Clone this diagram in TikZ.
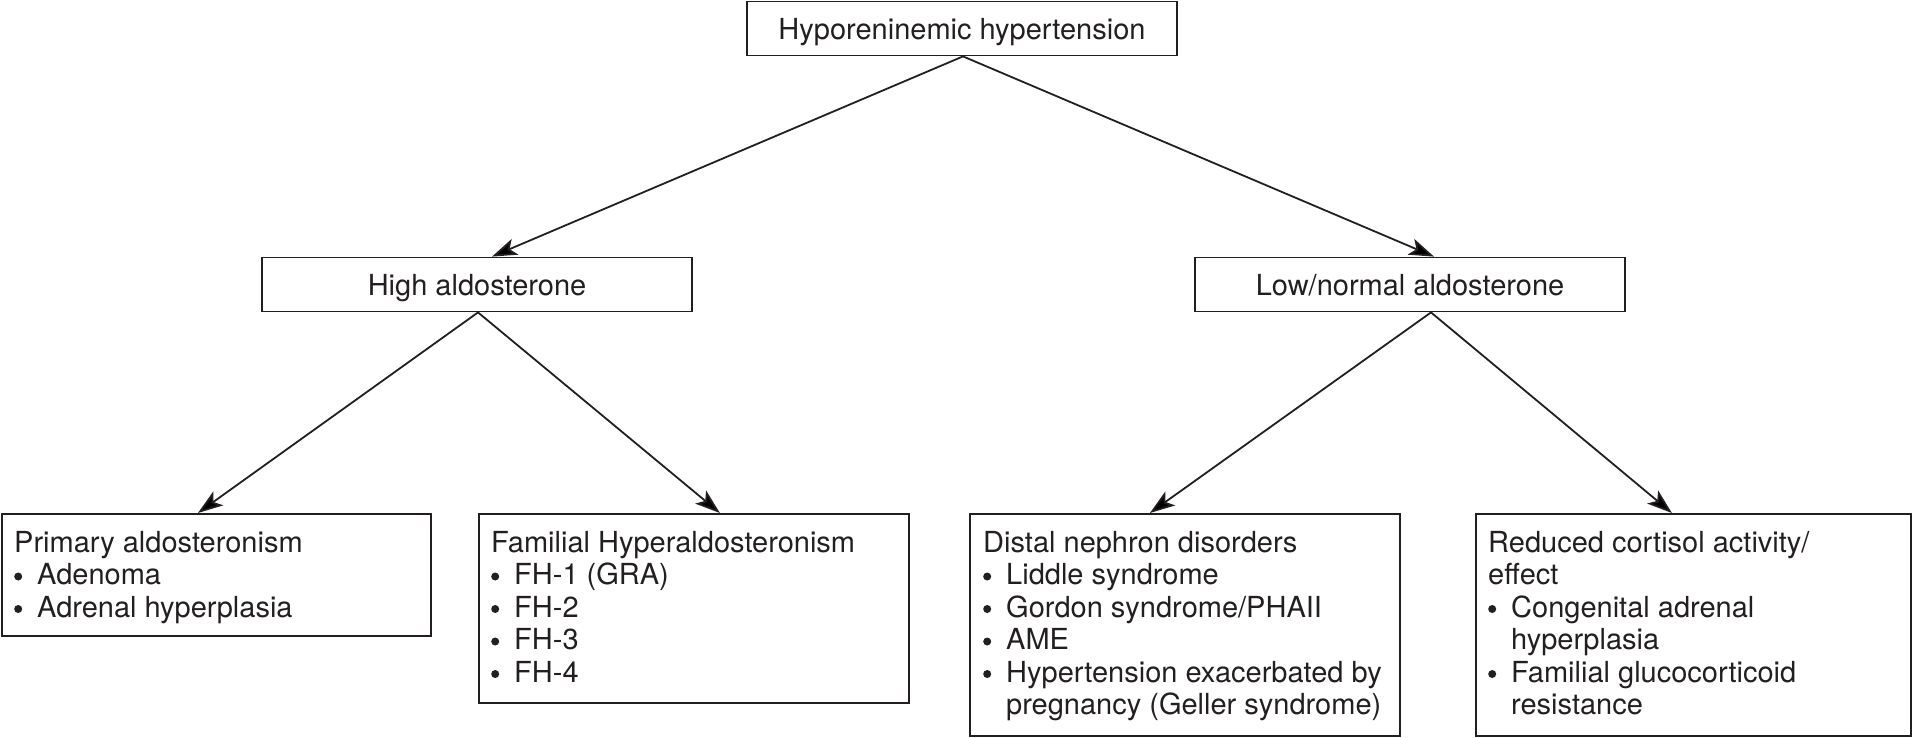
\documentclass[tikz,border=0pt]{standalone}
\usepackage{fontspec}
\setmainfont{TeX Gyre Heros}
\usetikzlibrary{arrows.meta}
\definecolor{ink}{HTML}{231F20}
\tikzset{
  box/.style={draw=ink, line width=1.8pt, rectangle, inner sep=0pt, text=ink,
    font=\fontsize{29}{32.5}\selectfont},
  onebox/.style={box, minimum width=430, minimum height=54, text height=21pt, text depth=0pt},
  txt/.style={inner sep=0pt, text=ink, font=\fontsize{29}{32.5}\selectfont},
  arr/.style={draw=ink, line width=1.8pt, -{Stealth[length=25pt, width=17pt, inset=6pt]}}
}
\newcommand{\bul}{\makebox[23pt][l]{\tikz[baseline=0pt]{\fill[ink] (6.5pt,8pt) circle (4pt);}}}
\newcommand{\cont}{\hspace*{23pt}}
\begin{document}
\begin{tikzpicture}[x=1pt, y=-1pt]
\useasboundingbox (0,0) rectangle (1912,737);
% top level
\node[onebox] (T) at (962,28.5) {Hyporeninemic hypertension};
% second level
\node[onebox] (H) at (477,284.5) {High aldosterone};
\node[onebox] (L) at (1410,284.5) {Low/normal aldosterone};
% bottom boxes
\node[box, anchor=north west, minimum width=429, minimum height=122] (P) at (1,513) {};
\node[box, anchor=north west, minimum width=430, minimum height=189] (F) at (478,513) {};
\node[box, anchor=north west, minimum width=430, minimum height=222] (D) at (969,513) {};
\node[box, anchor=north west, minimum width=435, minimum height=222] (R) at (1475,513) {};
% texts
\node[txt, anchor=base west] (Pt) at ([xshift=13, yshift=-39]P.north west)
  {\parbox[t]{410pt}{\fontsize{29}{32.5}\selectfont Primary aldosteronism\\
   \bul Adenoma\\
   \bul Adrenal hyperplasia}};
\node[txt, anchor=base west] (Ft) at ([xshift=13, yshift=-39]F.north west)
  {\parbox[t]{410pt}{\fontsize{29}{32.5}\selectfont Familial Hyperaldosteronism\\
   \bul FH-1 (GRA)\\
   \bul FH-2\\
   \bul FH-3\\
   \bul FH-4}};
\node[txt, anchor=base west] (Dt) at ([xshift=14, yshift=-39]D.north west)
  {\parbox[t]{410pt}{\fontsize{29}{32.5}\selectfont Distal nephron disorders\\
   \bul Liddle syndrome\\
   \bul Gordon syndrome/PHAII\\
   \bul AME\\
   \bul Hypertension exacerbated by\\
   \cont pregnancy (Geller syndrome)}};
\node[txt, anchor=base west] (Rt) at ([xshift=13, yshift=-39]R.north west)
  {\parbox[t]{415pt}{\fontsize{29}{32.5}\selectfont Reduced cortisol activity/\\
   effect\\
   \bul Congenital adrenal\\
   \cont hyperplasia\\
   \bul Familial glucocorticoid\\
   \cont resistance}};
% connectors
\draw[arr] ([xshift=1]T.south) -- ([xshift=15]H.north);
\draw[arr] ([xshift=1]T.south) -- ([xshift=24]L.north);
\draw[arr] ([xshift=1]H.south) -- ([xshift=-18.5]P.north);
\draw[arr] ([xshift=1]H.south) -- ([xshift=26]F.north);
\draw[arr] ([xshift=21]L.south) -- ([xshift=-35]D.north);
\draw[arr] ([xshift=21]L.south) -- ([xshift=-21.5]R.north);
\end{tikzpicture}
\end{document}
